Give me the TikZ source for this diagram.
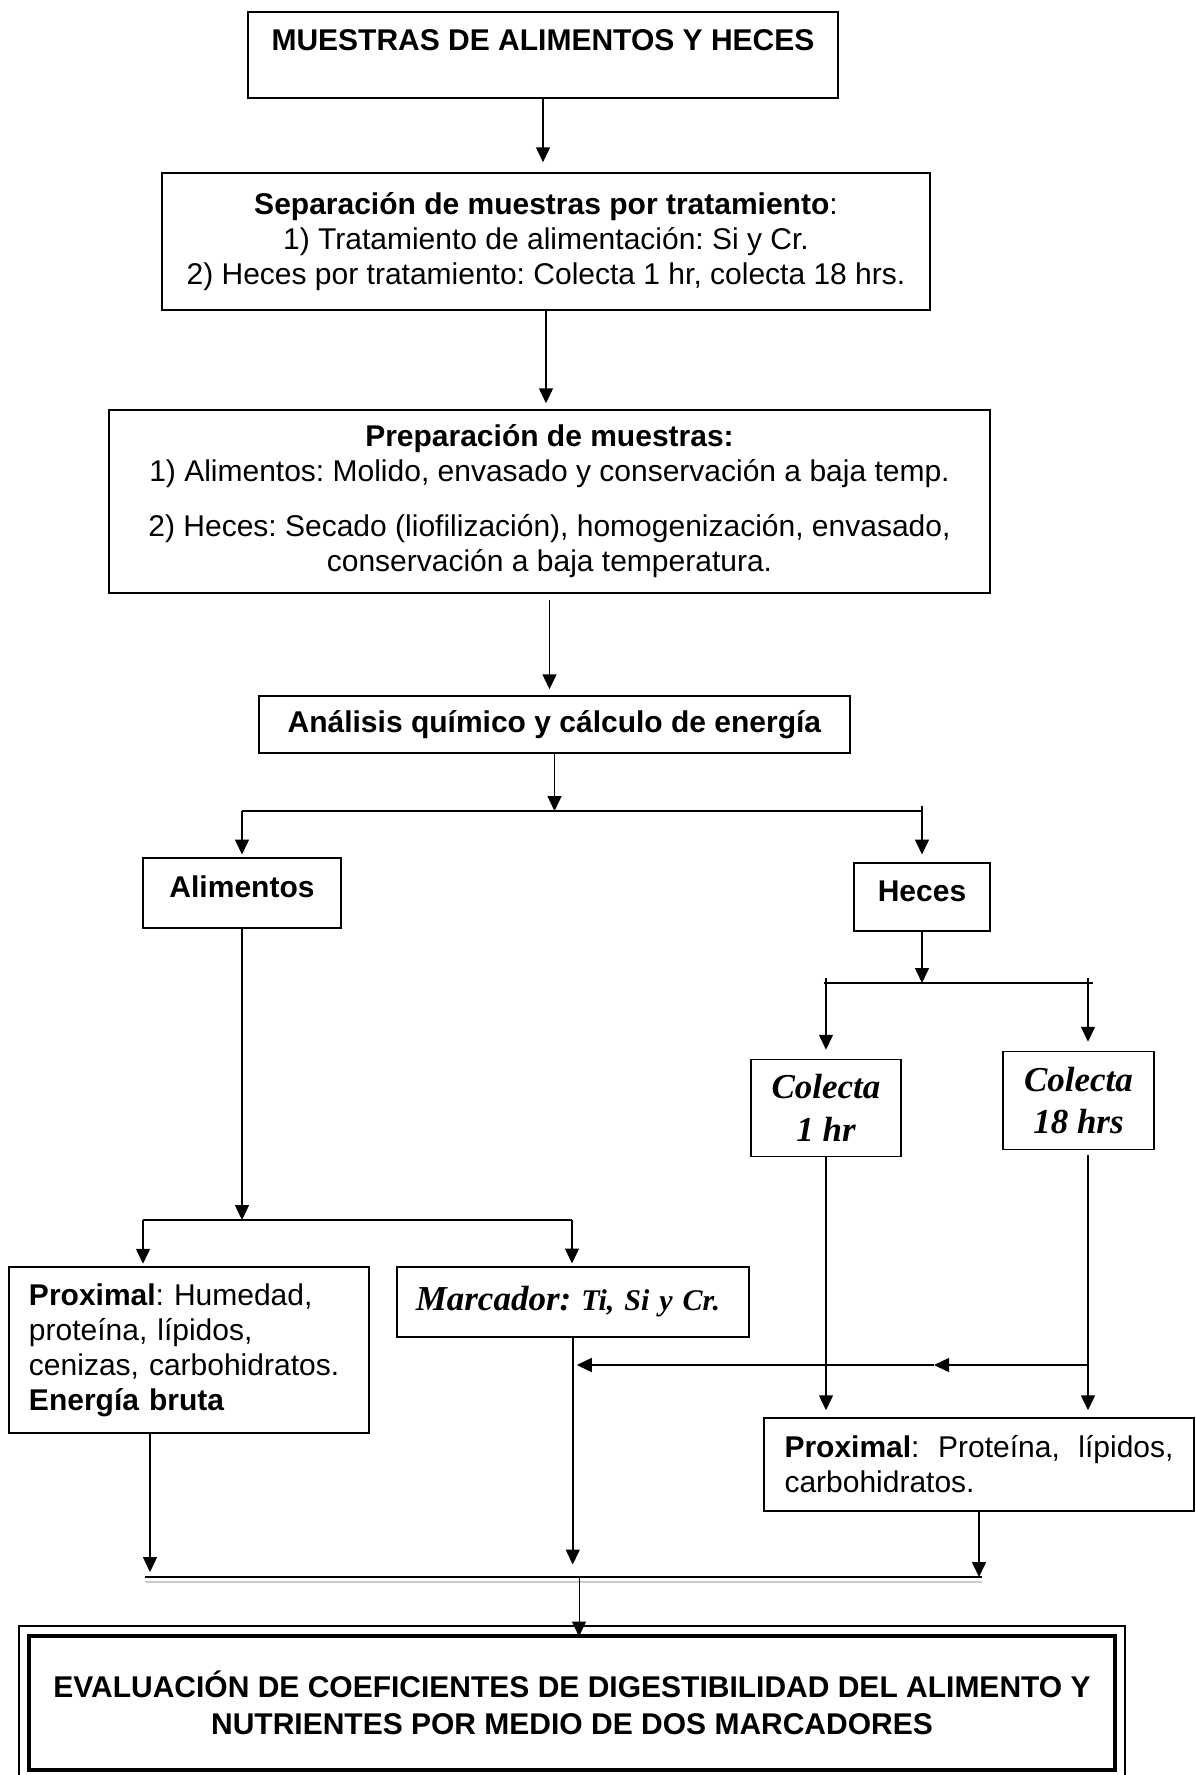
\documentclass[tikz,border=0pt]{standalone}
\usepackage{fontspec}
\setmainfont{Liberation Sans}
\newfontfamily\timesf{Liberation Serif}
\usetikzlibrary{arrows.meta}
\tolerance=9999
\hbadness=10000
\frenchspacing

\begin{document}
\begin{tikzpicture}[x=0.4pt, y=-0.4pt,
    box/.style={draw, line width=0.6pt, align=center, font=\fontsize{12}{14}\selectfont},
    colecta/.style={box, font=\timesf\bfseries\itshape\fontsize{14}{17}\selectfont},
    arr/.style={-{Triangle[width=5.6pt,length=6pt]}, line width=0.6pt},
    bar/.style={line width=1pt}]
  \useasboundingbox (0,0) rectangle (1195,1775);

  % boxes
  \node[box, anchor=north, minimum width=236pt, inner ysep=0pt, text height=15.6pt, text depth=18.8pt] (MU) at (543,11) {\textbf{MUESTRAS DE ALIMENTOS Y HECES}};
  \node[box, minimum width=307.2pt, minimum height=54.8pt] (SE) at (546,241.5) {\textbf{Separación de muestras por tratamiento}:\\
    1) Tratamiento de alimentación: Si y Cr.\\
    2) Heces por tratamiento: Colecta 1 hr, colecta 18 hrs.};
  \node[box, minimum width=352.4pt, minimum height=73.2pt] (PR) at (549.5,501.5) {\textbf{Preparación de muestras:}\\
    1) Alimentos: Molido, envasado y conservación a baja temp.\\[8pt]
    2) Heces: Secado (liofilización), homogenización, envasado,\\
    conservación a baja temperatura.};
  \node[box, minimum width=236.4pt, minimum height=22.8pt] (AN) at (554.5,724.5) {\textbf{Análisis químico y cálculo de energía}};
  \node[box, anchor=north, minimum width=79.2pt, inner ysep=0pt, text height=16pt, text depth=12pt] (AL) at (242,857) {\textbf{Alimentos}};
  \node[box, anchor=north, minimum width=54.4pt, inner ysep=0pt, text height=15.6pt, text depth=11.6pt] (HE) at (922,862) {\textbf{Heces}};
  \node[colecta, minimum width=60pt, minimum height=38.8pt] (C1) at (826,1108) {Colecta\\1 hr};
  \node[colecta, minimum width=60.4pt, minimum height=39.2pt] (C18) at (1078.5,1100.5) {Colecta\\18 hrs};
  \node[box, align=left, text width=128pt, inner xsep=8pt, minimum height=66.4pt] (PA) at (189,1350) {\textbf{Proximal}: Humedad,\\
    proteína, lípidos,\\
    cenizas, carbohidratos.\\
    \textbf{Energía bruta}};
  \node[box, anchor=north west, align=left, text width=125.6pt, inner xsep=7.6pt, inner ysep=0pt, text height=17.6pt, text depth=10.4pt] (MA) at (396,1266) {\timesf\bfseries\itshape\fontsize{14}{17}\selectfont Marcador: \fontsize{12}{14}\selectfont Ti, Si y Cr.};
  \node[box, align=justify, text width=155.6pt, inner xsep=8.2pt, minimum height=37.2pt] (PH) at (979,1464.5) {\textbf{Proximal}: Proteína, lípidos, carbohidratos.};
  \node[box, line width=1.6pt, minimum width=434.4pt, minimum height=53.6pt, font=\bfseries\fontsize{12}{14.8}\selectfont] (EV) at (572,1703) {EVALUACIÓN DE COEFICIENTES DE DIGESTIBILIDAD DEL ALIMENTO Y\\
    NUTRIENTES POR MEDIO DE DOS MARCADORES};
  \draw[line width=0.5pt] ([shift={(-3.2pt,3.2pt)}]EV.north west) rectangle ([shift={(3.2pt,-2.4pt)}]EV.south east);

  % junctions
  \coordinate (j1) at (553,811);
  \coordinate (j2) at (922,983);
  \coordinate (h1) at (826,983);
  \coordinate (h18) at (1088,983);
  \coordinate (j3) at (245,1220);
  \coordinate (a1) at (143,1220);
  \coordinate (a2) at (572,1220);
  \coordinate (f1) at (1088,1365);
  \coordinate (f2) at (934,1365);
  \coordinate (f3) at (MA.south |- f1);
  \coordinate (b1) at (150,1577);
  \coordinate (b2) at (579,1577);
  \coordinate (b3) at (979,1577);

  % connectors
  \draw[arr, shorten >=4pt] (MU) -- (MU |- SE.north);
  \draw[arr, shorten >=2.4pt] (SE) -- (SE |- PR.north);
  \draw[arr, shorten <=2.4pt, shorten >=2.4pt] (PR) -- (PR |- AN.north);
  \draw[arr] (AN) -- (AN |- j1);
  \draw[bar] (AL |- j1) -- (HE |- j1);
  \draw[arr, shorten >=1pt] (AL |- j1) -- (AL);
  \draw[arr, shorten >=3pt] ([yshift=2pt]HE |- j1) -- (HE);

  \draw[arr] (HE) -- (j2);
  \draw[bar] ([xshift=-1pt]h1) -- ([xshift=2pt]h18);
  \draw[arr, shorten >=3.6pt] ([yshift=2pt]h1) -- (h1 |- C1.north);
  \draw[arr, shorten >=3.6pt] ([yshift=2pt]h18) -- (h18 |- C18.north);

  \draw[arr, shorten >=2.8pt] (C1) -- (C1 |- PH.north);
  \draw[arr, shorten <=2pt, shorten >=2.8pt] (h18 |- C18.south) -- (h18 |- PH.north);
  \draw[arr] (f1) -- (f2);
  \draw[arr, shorten >=1.6pt] (f2) -- (f3);

  \draw[arr] (AL) -- (AL |- j3);
  \draw[bar] (a1) -- (a2);
  \draw[arr, shorten >=1pt] (a1) -- (a1 |- PA.north);
  \draw[arr, shorten >=1pt] (a2) -- (MA.north -| a2);

  \draw[arr, shorten >=2pt] (b1 |- PA.south) -- (b1);
  \draw[arr, shorten >=5pt] (MA) -- (MA |- b1);
  \draw[arr] (PH) -- (PH |- b1);
  \draw[line width=0.8pt] ([xshift=-2pt]b1) -- ([xshift=1.2pt]b3);
  \draw[gray!40, line width=0.5pt] ([xshift=-2pt,yshift=-2pt]b1) -- ([xshift=1.2pt,yshift=-2pt]b3);
  \draw[arr, line width=0.4pt, shorten >=-1pt] (b2) -- (b2 |- EV.north);
\end{tikzpicture}
\end{document}
